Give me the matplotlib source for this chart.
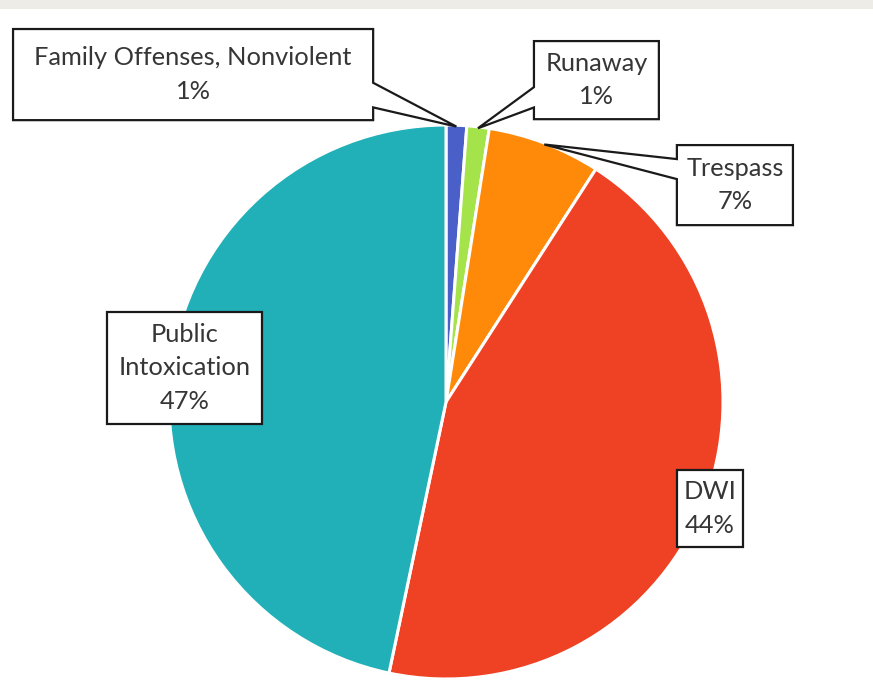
import numpy as np
import matplotlib.pyplot as plt
from matplotlib.patches import Polygon, Rectangle

# Offense categories, clockwise from 12 o'clock
categories = ["Family Offenses, Nonviolent", "Runaway", "Trespass", "DWI", "Public Intoxication"]
label_text = ["Family Offenses, Nonviolent", "Runaway", "Trespass", "DWI", "Public\nIntoxication"]
shares = [1.2, 1.3, 6.6, 44.2, 46.7]
colors = ["#4a60c8", "#a5e34b", "#ff8a0a", "#ef4124", "#21b0b8"]

W, H = 873, 686
R_PX = 277.0            # pie radius in pixels
CX_PX, CY_PX = 446, 402  # pie centre in pixels

fig = plt.figure(figsize=(W / 100, H / 100), dpi=100)
fig.patch.set_facecolor("white")
ax = fig.add_axes([0, 0, 1, 1])
ax.set_axis_off()

# faint photo strip along the top edge
fig.patches.append(Rectangle((0, 1 - 8.5 / H), 1, 8.5 / H, transform=fig.transFigure,
                             facecolor="#edece7", edgecolor="none", zorder=0))

wedges, _ = ax.pie(shares, colors=colors, startangle=90, counterclock=False,
                   radius=1.0, center=(0, 0),
                   wedgeprops=dict(edgecolor="white", linewidth=2.2))

ax.set_xlim(-CX_PX / R_PX, (W - CX_PX) / R_PX)
ax.set_ylim(-(H - CY_PX) / R_PX, CY_PX / R_PX)
ax.set_aspect("equal")

# label boxes: centre x, centre y, width, height (pie-radius units)
boxes = {
    "Family Offenses, Nonviolent": (-0.913, 1.182, 1.300, 0.329),
    "Runaway": (0.543, 1.162, 0.451, 0.282),
    "Trespass": (1.043, 0.783, 0.419, 0.289),
    "DWI": (0.953, -0.384, 0.238, 0.278),
    "Public Intoxication": (-0.944, 0.123, 0.560, 0.404),
}
# callout tails: side of the box and the fractions (from top) where the tail leaves it
tails = {
    "Family Offenses, Nonviolent": ("right", 0.59, 0.86),
    "Runaway": ("left", 0.59, 0.85),
    "Trespass": ("left", 0.175, 0.425),
}

total = sum(shares)
cum = np.cumsum([0] + shares)
text_color = "#363636"

for i, cat in enumerate(categories):
    cx, cy, w, h = boxes[cat]
    x0, x1 = cx - w / 2, cx + w / 2
    y0, y1 = cy - h / 2, cy + h / 2
    if cat in tails:
        side, f1, f2 = tails[cat]
        mid = 90 - 360 * (cum[i] + shares[i] / 2) / total
        tip = (0.995 * np.cos(np.radians(mid)), 0.995 * np.sin(np.radians(mid)))
        ya, yb = y1 - f1 * h, y1 - f2 * h
        if side == "right":
            pts = [(x0, y1), (x1, y1), (x1, ya), tip, (x1, yb), (x1, y0), (x0, y0)]
        else:
            pts = [(x0, y1), (x1, y1), (x1, y0), (x0, y0), (x0, yb), tip, (x0, ya)]
    else:
        pts = [(x0, y1), (x1, y1), (x1, y0), (x0, y0)]
    ax.add_patch(Polygon(pts, closed=True, facecolor="white", edgecolor="#1a1a1a",
                         linewidth=1.6, joinstyle="miter", zorder=5))
    pct = round(shares[i] / total * 100)
    ax.text(cx, cy, f"{label_text[i]}\n{pct}%", ha="center", va="center",
            multialignment="center", fontsize=18.3, family="Lato",
            color=text_color, linespacing=1.55, zorder=6)

fig.savefig("out.png", dpi=100, facecolor="white")
